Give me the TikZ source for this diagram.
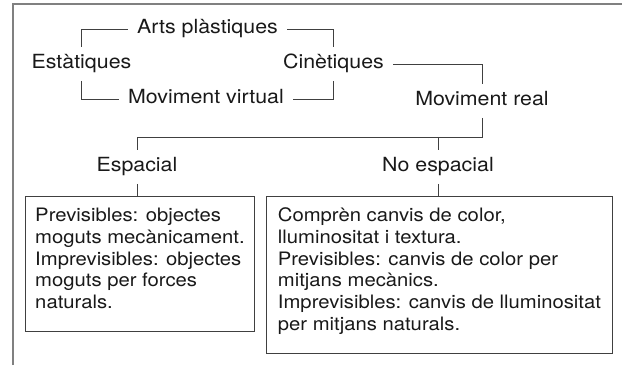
\documentclass[tikz,border=0pt]{standalone}
\usepackage{fontspec}
\setmainfont{TeX Gyre Heros}[FakeStretch=1.095]
\usetikzlibrary{calc, positioning}
\tikzset{
	lbl/.style={font=\fontsize{19.5}{21.8}\selectfont, text=black!90, text height=13.5pt, text depth=4pt, inner xsep=9pt, inner ysep=8pt},
	txtbox/.style={draw=black!75, line width=0.9pt, font=\fontsize{18.5}{21.8}\selectfont, text=black!90, anchor=north west, inner xsep=0pt, inner ysep=11.5pt, text height=13.5pt},
	conn/.style={draw=black!75, line width=0.9pt},
}
\begin{document}
\begin{tikzpicture}[x=1pt, y=-1pt]
		\useasboundingbox (0,0) rectangle (622,365);
		% frame %
		\draw[black!50, line width=1.8pt] (13,365) -- (13,4) -- (622,4);

		% nodes %
		\node[lbl] (arts) at (207.5,29) {Arts plàstiques};
		\node[lbl] (est) at (81.5,64) {Estàtiques};
		\node[lbl] (cin) at (333.5,64) {Cinètiques};
		\node[lbl] (virt) at (206,99) {Moviment virtual};
		\node[lbl] (real) at (482,101) {Moviment real};
		\node[lbl] (esp) at (137,167) {Espacial};
		\node[lbl] (noesp) at (438,167) {No espacial};
		\node[txtbox, minimum width=229pt, minimum height=135pt, text depth=98.5pt] (lbox) at (25,196)
			{\begin{tabular}[t]{@{}l@{}}Previsibles: objectes\\moguts mecànicament.\\Imprevisibles: objectes\\moguts per forces\\naturals.\end{tabular}};
		\node[txtbox, minimum width=346pt, minimum height=157pt, text depth=120.5pt] (rbox) at (266,196)
			{\begin{tabular}[t]{@{}l@{}}Comprèn canvis de color,\\lluminositat i textura.\\Previsibles: canvis de color per\\mitjans mecànics.\\Imprevisibles: canvis de lluminositat\\per mitjans naturals.\end{tabular}};
		\coordinate (split) at ($(real.south)+(0,19)$);

		% edges %
		\draw[conn] (arts.west) -| (est.north);
		\draw[conn] (arts.east) -| (cin.north);
		\draw[conn] (est.south) |- (virt.west);
		\draw[conn] (virt.east) -| (cin.south);
		\draw[conn] (cin.east) -| (real.north);
		\draw[conn] (real.south) -- (split) -| (esp.north);
		\draw[conn] (split -| noesp.north) -- (noesp.north);
		\draw[conn] (esp.south) -- (esp.south |- lbox.north);
		\draw[conn] (noesp.south) -- (noesp.south |- rbox.north);
\end{tikzpicture}
\end{document}
